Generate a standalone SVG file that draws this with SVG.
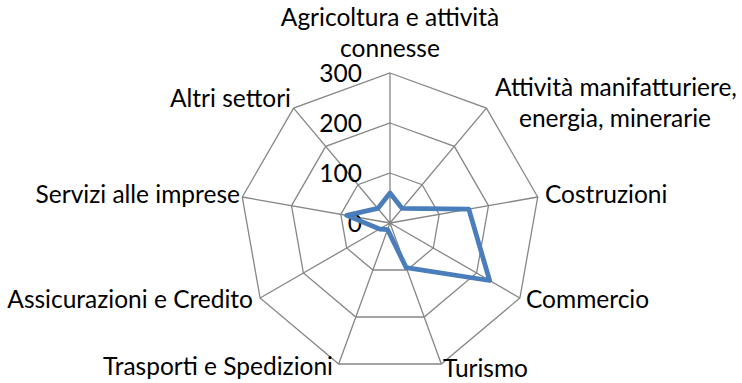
<svg xmlns="http://www.w3.org/2000/svg" width="742" height="383" viewBox="0 0 742 383">
<style>
.grid{fill:none;stroke:#868686;stroke-width:1.3}
.data{fill:none;stroke:#4A7EBB;stroke-width:4.8;stroke-linejoin:round}
text{font-family:Lato,"Liberation Sans",sans-serif;font-size:24.5px;fill:#000}
.ax{text-anchor:end}
</style>
<rect width="742" height="383" fill="#fff"/>
<g id="grid">
<polygon class="grid" points="390,73 486.4,108.1 537.7,197 519.9,298 441.3,364 338.7,364 260.1,298 242.3,197 293.6,108.1"/>
<polygon class="grid" points="390,123 454.3,146.4 488.5,205.6 476.6,273 424.2,317 355.8,317 303.4,273 291.5,205.6 325.7,146.4"/>
<polygon class="grid" points="390,173 422.1,184.7 439.2,214.3 433.3,248 407.1,270 372.9,270 346.7,248 340.8,214.3 357.9,184.7"/>
<path class="grid" d="M390,223L390,73M390,223L486.4,108.1M390,223L537.7,197M390,223L519.9,298M390,223L441.3,364M390,223L338.7,364M390,223L260.1,298M390,223L242.3,197M390,223L293.6,108.1"/>
</g>
<g id="scale">
<text class="ax" x="362" y="82">300</text>
<text class="ax" x="362" y="132">200</text>
<text class="ax" x="362" y="182">100</text>
<text class="ax" x="362" y="232">0</text>
</g>
<g id="series">
<polygon class="data" points="390,193 402.2,208.4 468.8,209.1 489.6,280.5 406.2,267.6 387.6,229.6 379.6,229 346.7,215.4 377.8,208.4"/>
</g>
<g id="labels">
<text x="390" y="26" text-anchor="middle">Agricoltura e attività</text>
<text x="390" y="57" text-anchor="middle">connesse</text>
<text x="616" y="96" text-anchor="middle">Attività manifatturiere,</text>
<text x="615" y="127" text-anchor="middle">energia, minerarie</text>
<text x="545" y="203">Costruzioni</text>
<text x="526" y="308">Commercio</text>
<text x="443" y="377">Turismo</text>
<text x="333" y="375" text-anchor="end">Trasporti e Spedizioni</text>
<text x="253" y="308" text-anchor="end">Assicurazioni e Credito</text>
<text x="240" y="203" text-anchor="end">Servizi alle imprese</text>
<text x="291" y="107" text-anchor="end">Altri settori</text>
</g>
</svg>
